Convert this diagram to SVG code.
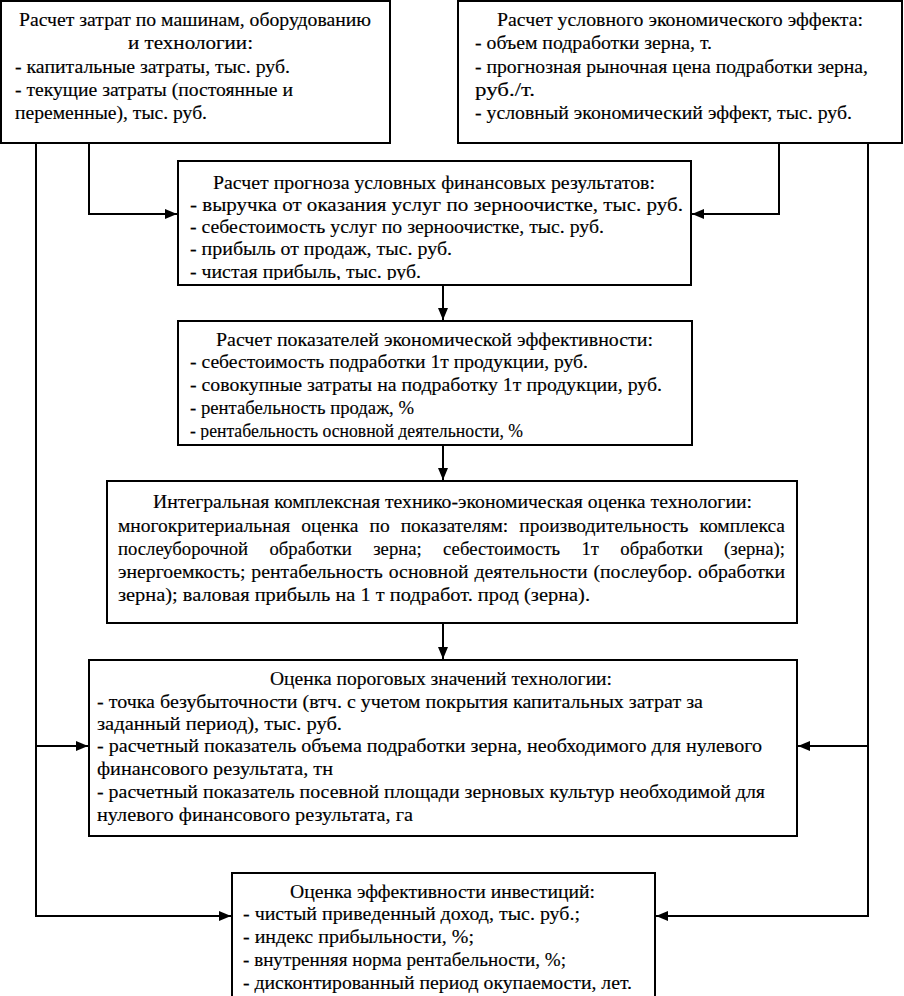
<svg xmlns="http://www.w3.org/2000/svg" width="904" height="996" viewBox="0 0 904 996">
<style>
.box{fill:#fff;stroke:#000;stroke-width:2}
.t{font-family:'Liberation Serif','Times New Roman',Times,serif;font-size:19px;fill:#000;stroke:#000;stroke-width:0.15}
.ln{fill:none;stroke:#000;stroke-width:2}
</style>
<defs>
<marker id="ah" markerWidth="12" markerHeight="10" refX="12" refY="5" orient="auto" markerUnits="userSpaceOnUse">
<path d="M0,0 L12,5 L0,10 Z" fill="#000"/>
</marker>
<clipPath id="cl3"><rect x="178" y="161" width="513" height="119"/></clipPath>
<clipPath id="cl4"><rect x="178" y="321" width="514" height="119"/></clipPath>
</defs>
<rect width="904" height="996" fill="#fff"/>
<g id="connectors">
<path class="ln" d="M36,143 V916 H231" marker-end="url(#ah)"/>
<path class="ln" d="M36,746 H88" marker-end="url(#ah)"/>
<path class="ln" d="M89,143 V214 H177" marker-end="url(#ah)"/>
<path class="ln" d="M779,143 V214 H692" marker-end="url(#ah)"/>
<path class="ln" d="M868,143 V916 H656" marker-end="url(#ah)"/>
<path class="ln" d="M868,746 H798" marker-end="url(#ah)"/>
<path class="ln" d="M443,285 V320" marker-end="url(#ah)"/>
<path class="ln" d="M443,445 V480" marker-end="url(#ah)"/>
<path class="ln" d="M443,623 V659" marker-end="url(#ah)"/>
</g>
<g id="n1">
<rect class="box" x="1" y="1" width="389" height="142"/>
<text class="t" x="19" y="26" textLength="352" lengthAdjust="spacingAndGlyphs">Расчет затрат по машинам, оборудованию</text>
<text class="t" x="128" y="49" textLength="125" lengthAdjust="spacingAndGlyphs">и технологии:</text>
<text class="t" x="15" y="73" textLength="275" lengthAdjust="spacingAndGlyphs">- капитальные затраты, тыс. руб.</text>
<text class="t" x="15" y="96" textLength="278" lengthAdjust="spacingAndGlyphs">- текущие затраты (постоянные и</text>
<text class="t" x="15" y="119" textLength="192" lengthAdjust="spacingAndGlyphs">переменные), тыс. руб.</text>
</g>
<g id="n2">
<rect class="box" x="458" y="1" width="444" height="142"/>
<text class="t" x="497" y="26" textLength="366" lengthAdjust="spacingAndGlyphs">Расчет условного экономического эффекта:</text>
<text class="t" x="475" y="49" textLength="237" lengthAdjust="spacingAndGlyphs">- объем подработки зерна, т.</text>
<text class="t" x="475" y="73" textLength="393" lengthAdjust="spacingAndGlyphs">- прогнозная рыночная цена подработки зерна,</text>
<text class="t" x="475" y="96" textLength="60" lengthAdjust="spacingAndGlyphs">руб./т.</text>
<text class="t" x="475" y="119" textLength="377" lengthAdjust="spacingAndGlyphs">- условный экономический эффект, тыс. руб.</text>
</g>
<g id="n3">
<rect class="box" x="178" y="161" width="513" height="124"/>
<g clip-path="url(#cl3)">
<text class="t" x="213" y="189" textLength="442" lengthAdjust="spacingAndGlyphs">Расчет прогноза условных финансовых результатов:</text>
<text class="t" x="190" y="211" textLength="493" lengthAdjust="spacingAndGlyphs">- выручка от оказания услуг по зерноочистке, тыс. руб.</text>
<text class="t" x="190" y="233" textLength="414" lengthAdjust="spacingAndGlyphs">- себестоимость услуг по зерноочистке, тыс. руб.</text>
<text class="t" x="190" y="255" textLength="262" lengthAdjust="spacingAndGlyphs">- прибыль от продаж, тыс. руб.</text>
<text class="t" x="190" y="278" textLength="231" lengthAdjust="spacingAndGlyphs">- чистая прибыль, тыс. руб.</text>
</g>
</g>
<g id="n4">
<rect class="box" x="178" y="321" width="514" height="124"/>
<g clip-path="url(#cl4)">
<text class="t" x="216" y="346" textLength="437" lengthAdjust="spacingAndGlyphs">Расчет показателей экономической эффективности:</text>
<text class="t" x="190" y="368" textLength="398" lengthAdjust="spacingAndGlyphs">- себестоимость подработки 1т продукции, руб.</text>
<text class="t" x="190" y="391" textLength="472" lengthAdjust="spacingAndGlyphs">- совокупные затраты на подработку 1т продукции, руб.</text>
<text class="t" x="190" y="414" textLength="224" lengthAdjust="spacingAndGlyphs">- рентабельность продаж, %</text>
<text class="t" x="190" y="437" textLength="333" lengthAdjust="spacingAndGlyphs">- рентабельность основной деятельности, %</text>
</g>
</g>
<g id="n5">
<rect class="box" x="107" y="481" width="690" height="142"/>
<text class="t" x="153" y="508" textLength="599" lengthAdjust="spacingAndGlyphs">Интегральная комплексная технико-экономическая оценка технологии:</text>
<text class="t" x="118" y="532" textLength="667" lengthAdjust="spacingAndGlyphs" word-spacing="6">многокритериальная оценка по показателям: производительность комплекса</text>
<text class="t" x="118" y="555" textLength="667" lengthAdjust="spacingAndGlyphs" word-spacing="17">послеуборочной обработки зерна; себестоимость 1т обработки (зерна);</text>
<text class="t" x="118" y="578" textLength="667" lengthAdjust="spacingAndGlyphs" word-spacing="1">энергоемкость; рентабельность основной деятельности (послеубор. обработки</text>
<text class="t" x="118" y="601" textLength="472" lengthAdjust="spacingAndGlyphs">зерна); валовая прибыль на 1 т подработ. прод (зерна).</text>
</g>
<g id="n6">
<rect class="box" x="89" y="660" width="708" height="176"/>
<text class="t" x="270" y="685" textLength="342" lengthAdjust="spacingAndGlyphs">Оценка пороговых значений технологии:</text>
<text class="t" x="97" y="708" textLength="606" lengthAdjust="spacingAndGlyphs">- точка безубыточности (втч. с учетом покрытия капитальных затрат за</text>
<text class="t" x="97" y="730" textLength="245" lengthAdjust="spacingAndGlyphs">заданный период), тыс. руб.</text>
<text class="t" x="97" y="752" textLength="665" lengthAdjust="spacingAndGlyphs">- расчетный показатель объема подработки зерна, необходимого для нулевого</text>
<text class="t" x="97" y="775" textLength="236" lengthAdjust="spacingAndGlyphs">финансового результата, тн</text>
<text class="t" x="97" y="798" textLength="668" lengthAdjust="spacingAndGlyphs">- расчетный показатель посевной площади зерновых культур необходимой для</text>
<text class="t" x="97" y="821" textLength="316" lengthAdjust="spacingAndGlyphs">нулевого финансового результата, га</text>
</g>
<g id="n7">
<rect class="box" x="232" y="873" width="423" height="130"/>
<text class="t" x="290" y="898" textLength="305" lengthAdjust="spacingAndGlyphs">Оценка эффективности инвестиций:</text>
<text class="t" x="243" y="920" textLength="337" lengthAdjust="spacingAndGlyphs">- чистый приведенный доход, тыс. руб.;</text>
<text class="t" x="243" y="943" textLength="231" lengthAdjust="spacingAndGlyphs">- индекс прибыльности, %;</text>
<text class="t" x="243" y="966" textLength="323" lengthAdjust="spacingAndGlyphs">- внутренняя норма рентабельности, %;</text>
<text class="t" x="243" y="989" textLength="389" lengthAdjust="spacingAndGlyphs">- дисконтированный период окупаемости, лет.</text>
</g>
</svg>
